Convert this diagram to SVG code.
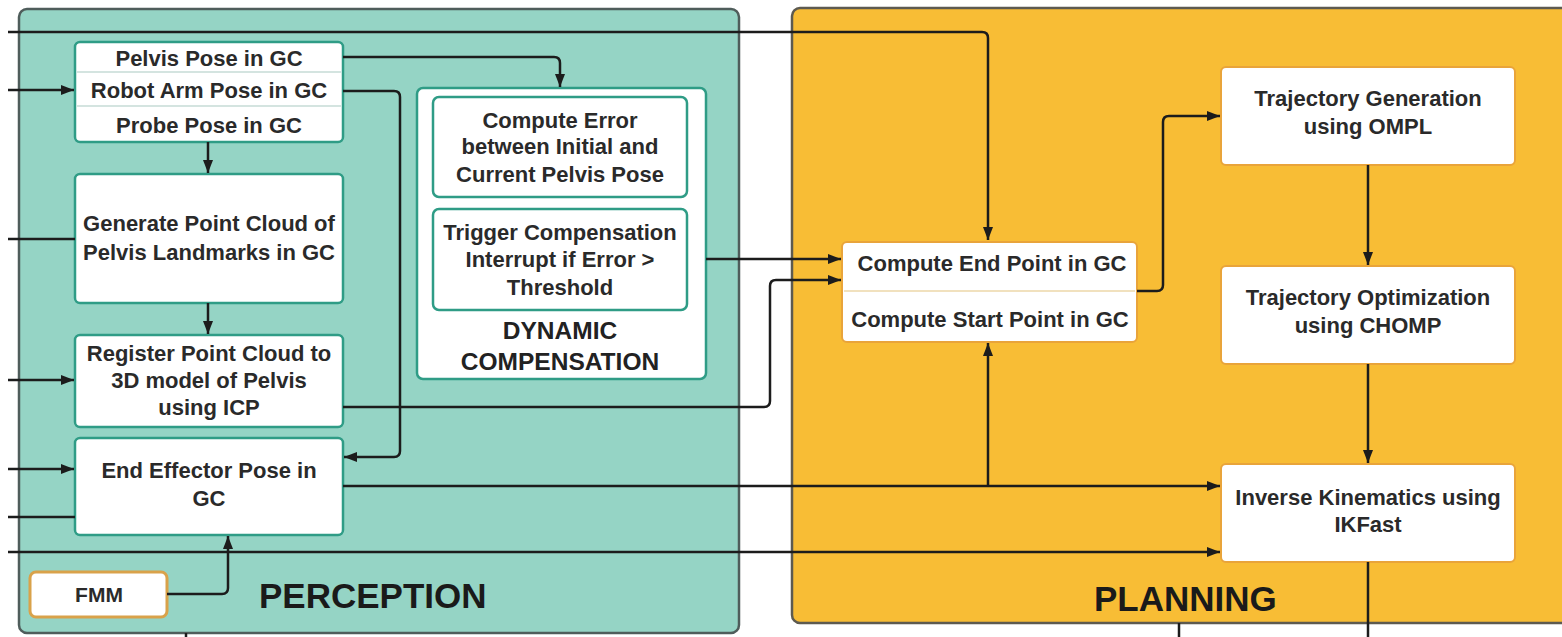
<svg xmlns="http://www.w3.org/2000/svg" width="1562" height="637" viewBox="0 0 1562 637">
  <style>
    .panel-p { fill: #95d4c5; stroke: #4f5d5b; stroke-width: 2.5; }
    .panel-q { fill: #f8bd35; stroke: #5d5a50; stroke-width: 2.5; }
    .node-p { fill: #ffffff; stroke: #2f9c86; stroke-width: 2.5; }
    .node-q { fill: #ffffff; stroke: #e9a43a; stroke-width: 2; }
    .node-f { fill: #ffffff; stroke: #d9a24a; stroke-width: 3; }
    .div { stroke: #a9c9c1; stroke-width: 1.2; }
    .divq { stroke: #ecd7a8; stroke-width: 1.5; }
    .t { font-family: "Liberation Sans", Arial, sans-serif; font-weight: bold; font-size: 22px; fill: #2a2a2a; text-anchor: middle; dominant-baseline: central; }
    .big { font-family: "Liberation Sans", Arial, sans-serif; font-weight: bold; font-size: 35px; fill: #1a1a1a; dominant-baseline: central; }
    .mid { font-family: "Liberation Sans", Arial, sans-serif; font-weight: bold; font-size: 24.5px; fill: #222; text-anchor: middle; dominant-baseline: central; }
    .c { fill: none; stroke: #1c1c1c; stroke-width: 2.5; }
    .a { marker-end: url(#arr); }
  </style>
  <defs>
    <marker id="arr" markerUnits="userSpaceOnUse" markerWidth="14" markerHeight="12" refX="13" refY="5" orient="auto">
      <path d="M0,0 L13,5 L0,10 z" fill="#1c1c1c"/>
    </marker>
  </defs>

  <rect width="1562" height="637" fill="#ffffff"/>

  <!-- panels -->
  <g id="perception">
    <rect class="panel-p" x="19" y="9" width="720" height="624" rx="8"/>
    <text class="big" x="259" y="595">PERCEPTION</text>
  </g>
  <g id="planning">
    <rect class="panel-q" x="792" y="8" width="790" height="615" rx="8"/>
    <text class="big" x="1094" y="598">PLANNING</text>
  </g>

  <!-- perception nodes -->
  <g id="poses">
    <rect class="node-p" x="75" y="42" width="268" height="100" rx="5"/>
    <line class="div" x1="77" y1="72" x2="341" y2="72"/>
    <line class="div" x1="77" y1="106" x2="341" y2="106"/>
    <text class="t" x="209" y="58">Pelvis Pose in GC</text>
    <text class="t" x="209" y="90">Robot Arm Pose in GC</text>
    <text class="t" x="209" y="125">Probe Pose in GC</text>
  </g>
  <g id="generate">
    <rect class="node-p" x="75" y="174" width="268" height="129" rx="5"/>
    <text class="t" x="209" y="223">Generate Point Cloud of</text>
    <text class="t" x="209" y="252">Pelvis Landmarks in GC</text>
  </g>
  <g id="register">
    <rect class="node-p" x="75" y="335" width="268" height="92" rx="5"/>
    <text class="t" x="209" y="353">Register Point Cloud to</text>
    <text class="t" x="209" y="380">3D model of Pelvis</text>
    <text class="t" x="209" y="407">using ICP</text>
  </g>
  <g id="end-effector">
    <rect class="node-p" x="75" y="438" width="268" height="97" rx="5"/>
    <text class="t" x="209" y="470">End Effector Pose in</text>
    <text class="t" x="209" y="498">GC</text>
  </g>
  <g id="fmm">
    <rect class="node-f" x="30" y="572" width="137" height="45" rx="6"/>
    <text class="t" x="99" y="594" style="font-size:21px">FMM</text>
  </g>
  <g id="dynamic-compensation">
    <rect class="node-p" x="417" y="88" width="289" height="291" rx="6"/>
    <rect class="node-p" x="433" y="97" width="254" height="100" rx="6"/>
    <text class="t" x="560" y="120">Compute Error</text>
    <text class="t" x="560" y="146">between Initial and</text>
    <text class="t" x="560" y="174">Current Pelvis Pose</text>
    <rect class="node-p" x="433" y="209" width="254" height="101" rx="6"/>
    <text class="t" x="560" y="232">Trigger Compensation</text>
    <text class="t" x="560" y="259">Interrupt if Error &gt;</text>
    <text class="t" x="560" y="287">Threshold</text>
    <text class="mid" x="560" y="330">DYNAMIC</text>
    <text class="mid" x="560" y="361">COMPENSATION</text>
  </g>

  <!-- planning nodes -->
  <g id="compute-points">
    <rect class="node-q" x="842" y="242" width="295" height="100" rx="5"/>
    <line class="divq" x1="844" y1="291" x2="1135" y2="291"/>
    <text class="t" x="992" y="263">Compute End Point in GC</text>
    <text class="t" x="990" y="319">Compute Start Point in GC</text>
  </g>
  <g id="trajectory-generation">
    <rect class="node-q" x="1221" y="67" width="294" height="98" rx="5"/>
    <text class="t" x="1368" y="98">Trajectory Generation</text>
    <text class="t" x="1368" y="126">using OMPL</text>
  </g>
  <g id="trajectory-optimization">
    <rect class="node-q" x="1221" y="266" width="294" height="98" rx="5"/>
    <text class="t" x="1368" y="297">Trajectory Optimization</text>
    <text class="t" x="1368" y="325">using CHOMP</text>
  </g>
  <g id="inverse-kinematics">
    <rect class="node-q" x="1221" y="464" width="294" height="98" rx="5"/>
    <text class="t" x="1368" y="497">Inverse Kinematics using</text>
    <text class="t" x="1368" y="524">IKFast</text>
  </g>

  <!-- connectors -->
  <g id="connectors">
    <path class="c a" d="M8,32 H982 Q988,32 988,38 V240"/>
    <path class="c a" d="M8,90 H74"/>
    <path class="c a" d="M208,142 V173"/>
    <path class="c" d="M8,239 H75"/>
    <path class="c a" d="M208,303 V334"/>
    <path class="c a" d="M8,380 H74"/>
    <path class="c a" d="M8,469 H74"/>
    <path class="c" d="M8,517 H75"/>
    <path class="c a" d="M8,552 H1220"/>
    <path class="c a" d="M167,594 H222 Q228,594 228,588 V536"/>
    <path class="c a" d="M343,57 H554 Q560,57 560,63 V87"/>
    <path class="c a" d="M343,91 H394 Q400,91 400,97 V451 Q400,457 394,457 H344"/>
    <path class="c a" d="M706,259 H841"/>
    <path class="c a" d="M343,407 H764 Q770,407 770,401 V286 Q770,280 776,280 H841"/>
    <path class="c a" d="M343,486 H1220"/>
    <path class="c a" d="M988,486 V343"/>
    <path class="c a" d="M1137,291 H1157 Q1163,291 1163,285 V122 Q1163,116 1169,116 H1220"/>
    <path class="c a" d="M1368,165 V265"/>
    <path class="c a" d="M1368,364 V463"/>
    <path class="c" d="M1368,562 V637"/>
    <path class="c" d="M1179,623 V637"/>
    <path class="c" d="M186,633 V637"/>
  </g>
</svg>
